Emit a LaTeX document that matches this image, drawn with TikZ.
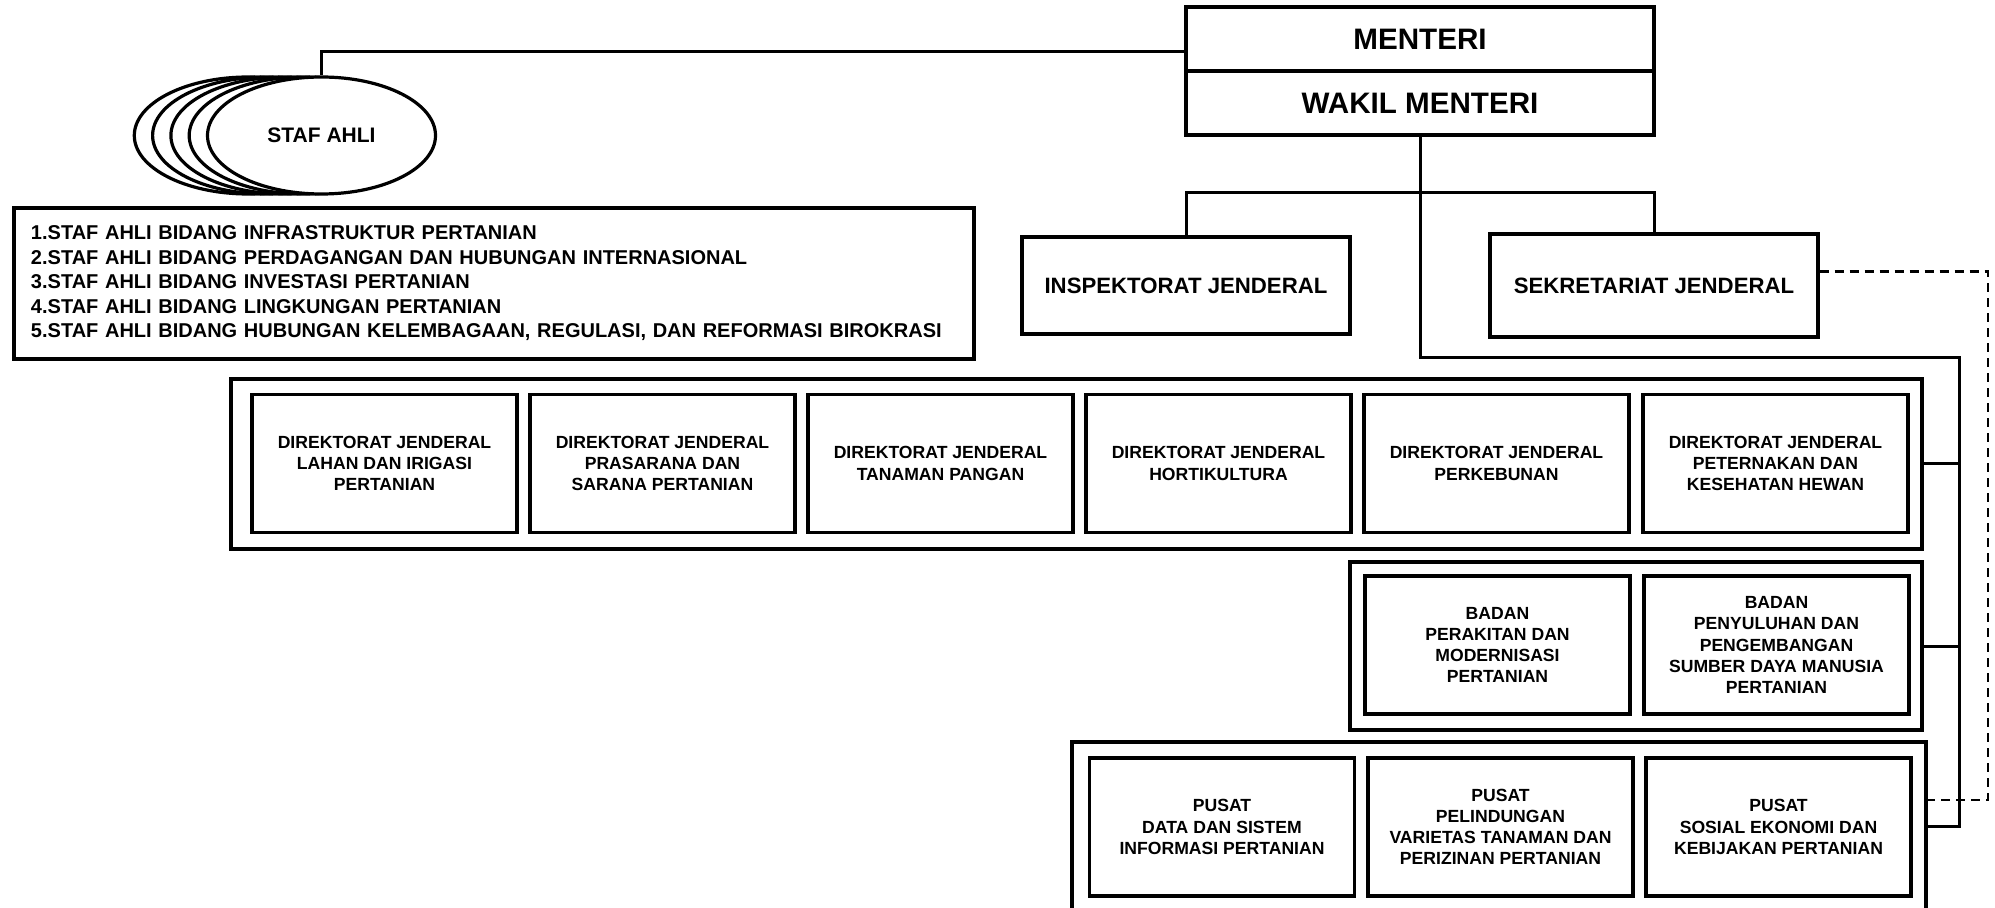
\documentclass[tikz,border=0pt]{standalone}
\usepackage{fontspec}
\setmainfont{Liberation Sans}
\usetikzlibrary{shapes.geometric}

\tikzset{
  unit/.style={draw, line width=1.6pt, fill=white, align=center, inner sep=2pt,
    minimum width=132.5pt, minimum height=69pt,
    font=\bfseries\fontsize{8.8}{10.6}\selectfont},
  group/.style={draw, line width=1.6pt, inner sep=0pt},
  head/.style={draw, line width=1.6pt, fill=white, align=center, inner sep=0pt,
    minimum width=164pt, font=\bfseries\fontsize{11.1}{13}\selectfont},
  boss/.style={head, minimum width=234pt, minimum height=32pt,
    font=\bfseries\fontsize{14.8}{17}\selectfont},
  staff/.style={ellipse, draw, line width=1.6pt, fill=white, inner sep=0pt,
    minimum width=114pt, minimum height=58.5pt,
    font=\bfseries\fontsize{10.5}{12}\selectfont},
  link/.style={line width=1.5pt},
  dashlink/.style={line width=1.1pt, dash pattern=on 4.5pt off 3pt}
}

\begin{document}
\begin{tikzpicture}[x=0.5pt, y=-0.5pt]
  \path[use as bounding box, clip] (0,0) rectangle (1995,908);

  \node[boss] (menteri) at (1420,39) {MENTERI};
  \node[boss] (wakil) at (1420,103) {WAKIL MENTERI};

  \foreach \k in {4,3,2,1}
    \node[staff] (staf\k) at (321.5-18.3*\k,135.5) {};
  \node[staff] (staf) at (321.5,135.5) {STAF AHLI};

  \node[draw, line width=1.6pt, minimum width=480pt, minimum height=75.5pt,
    inner xsep=8.5pt, text width=463pt, align=left,
    font=\bfseries\fontsize{10}{12.25}\selectfont] (stafdaftar) at (494,283.5)
    {1.STAF AHLI BIDANG INFRASTRUKTUR PERTANIAN\\
     2.STAF AHLI BIDANG PERDAGANGAN DAN HUBUNGAN INTERNASIONAL\\
     3.STAF AHLI BIDANG INVESTASI PERTANIAN\\
     4.STAF AHLI BIDANG LINGKUNGAN PERTANIAN\\
     5.STAF AHLI BIDANG HUBUNGAN KELEMBAGAAN, REGULASI, DAN REFORMASI BIROKRASI};

  \node[head, minimum height=48.5pt] (insp) at (1186,285.5) {INSPEKTORAT JENDERAL};
  \node[head, minimum height=51.5pt] (sek) at (1654,285.5) {SEKRETARIAT JENDERAL};

  \node[group, minimum width=845.5pt, minimum height=85pt] (dirgrp) at (1076.5,464) {};
  \node[group, minimum width=286pt, minimum height=84pt] (badangrp) at (1636,646) {};
  \node[group, minimum width=427pt, minimum height=95pt] (pusatgrp) at (1499,837) {};

  \foreach \i/\x/\txt in {
      1/384.5/{DIREKTORAT JENDERAL\\LAHAN DAN IRIGASI\\PERTANIAN},
      2/662.5/{DIREKTORAT JENDERAL\\PRASARANA DAN\\SARANA PERTANIAN},
      3/940.5/{DIREKTORAT JENDERAL\\TANAMAN PANGAN},
      4/1218.5/{DIREKTORAT JENDERAL\\HORTIKULTURA},
      5/1496.5/{DIREKTORAT JENDERAL\\PERKEBUNAN},
      6/1775.5/{DIREKTORAT JENDERAL\\PETERNAKAN DAN\\KESEHATAN HEWAN}}
    \node[unit] (dirjen\i) at (\x,463.5) {\txt};

  \foreach \i/\x/\txt in {
      1/1497.5/{BADAN\\PERAKITAN DAN\\MODERNISASI\\PERTANIAN},
      2/1776.5/{BADAN\\PENYULUHAN DAN\\PENGEMBANGAN\\SUMBER DAYA MANUSIA\\PERTANIAN}}
    \node[unit] (badan\i) at (\x,645) {\txt};

  \foreach \i/\x/\txt in {
      1/1222/{PUSAT\\DATA DAN SISTEM\\INFORMASI PERTANIAN},
      2/1500.5/{PUSAT\\PELINDUNGAN\\VARIETAS TANAMAN DAN\\PERIZINAN PERTANIAN},
      3/1778.5/{PUSAT\\SOSIAL EKONOMI DAN\\KEBIJAKAN PERTANIAN}}
    \node[unit] (pusat\i) at (\x,827) {\txt};

  \coordinate (fork) at (1420,193);
  \coordinate (spinetop) at (1420,358);
  \coordinate (spinebot) at (1959,826);
  \coordinate (dashbot) at (1988,800);

  \draw[link] ([yshift=-6.5pt]menteri.west) -| (staf.north);
  \draw[link] (wakil.south) -- (spinetop) -| (spinebot) -- (spinebot -| pusatgrp.east);
  \draw[link] (insp.north) |- (fork) -| (sek.north);
  \draw[link] (dirgrp.east) -- (dirgrp.east -| spinebot);
  \draw[link] (badangrp.east) -- (badangrp.east -| spinebot);
  \draw[dashlink] ([yshift=7pt]sek.east) -| (dashbot) -- (dashbot -| pusatgrp.east);
\end{tikzpicture}
\end{document}
